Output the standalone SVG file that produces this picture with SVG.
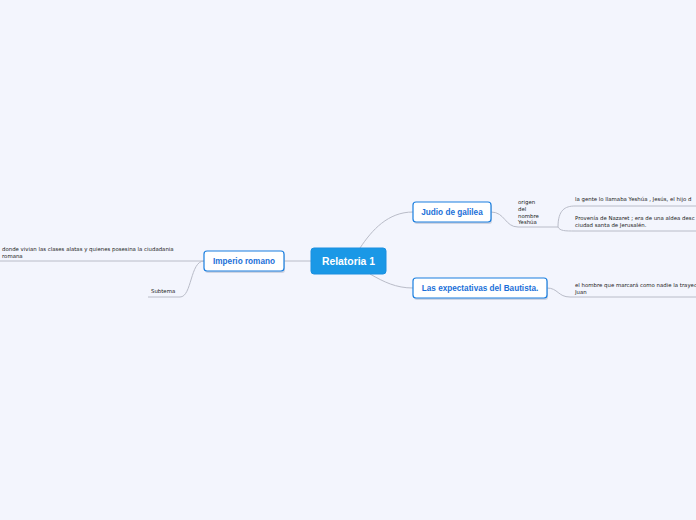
<svg xmlns="http://www.w3.org/2000/svg" width="696" height="520" viewBox="0 0 696 520">
<defs>
<style>
.bg{fill:#f3f5fd}
.con{fill:none;stroke:#b9bcc8;stroke-width:1}
.main{fill:#1a98e6;stroke:#1a8fe0;stroke-width:1}
.sub{fill:#ffffff;stroke:#1a7fe0;stroke-width:1.2}
.shadow{fill:#aab4c8;opacity:0.5}
.tmain{font-family:"Liberation Sans",Arial,sans-serif;font-size:10.4px;font-weight:bold;fill:#ffffff}
.tsub{font-family:"Liberation Sans",Arial,sans-serif;font-size:8.2px;font-weight:bold;fill:#1a6fd8}
.tsmall{font-family:"DejaVu Sans",Verdana,sans-serif;font-size:5.4px;fill:#222222}
</style>
</defs>
<rect class="bg" x="0" y="0" width="696" height="520"/>
<g id="connectors">
<path class="con" d="M360,248 C372,230 388,212 413,212"/>
<path class="con" d="M370,274 C384,282 396,288 413,288"/>
<path class="con" d="M311,261 L284,261"/>
<path class="con" d="M491,212 C505,212 505,227 518,227 L558,227"/>
<path class="con" d="M558,227 C558,210 565,206 575,206 L696,206"/>
<path class="con" d="M558,227 C560,231 565,231 575,231 L696,231"/>
<path class="con" d="M547,288 C558,288 558,297 570,297 L696,297"/>
<path class="con" d="M204,261 L0,261"/>
<path class="con" d="M204,261 C190,261 192,297 180,297 L148,297"/>
</g>
<g id="central">
<rect class="main" x="311" y="248" width="75" height="26" rx="3"/>
<text class="tmain" x="348.5" y="264.8" text-anchor="middle">Relatoria 1</text>
</g>
<g id="judio">
<rect class="shadow" x="414" y="204" width="78" height="20" rx="3"/>
<rect class="sub" x="413" y="202" width="78" height="20" rx="3"/>
<text class="tsub" x="452" y="215" text-anchor="middle">Judio de galilea</text>
</g>
<g id="expectativas">
<rect class="shadow" x="414" y="280" width="134" height="20" rx="3"/>
<rect class="sub" x="413" y="278" width="134" height="20" rx="3"/>
<text class="tsub" x="480" y="291" text-anchor="middle">Las expectativas del Bautista.</text>
</g>
<g id="imperio">
<rect class="shadow" x="205" y="253" width="80" height="20" rx="3"/>
<rect class="sub" x="204" y="251" width="80" height="20" rx="3"/>
<text class="tsub" x="244" y="264" text-anchor="middle">Imperio romano</text>
</g>
<g id="origen">
<text class="tsmall" x="518" y="204">origen</text>
<text class="tsmall" x="518" y="211">del</text>
<text class="tsmall" x="518" y="217.5">nombre</text>
<text class="tsmall" x="518" y="224">Yeshúa</text>
</g>
<g id="gente">
<text class="tsmall" x="575" y="201">la gente lo llamaba Yeshúa  , Jesús, el hijo d</text>
</g>
<g id="nazaret">
<text class="tsmall" x="575" y="220">Provenía de Nazaret ; era de una aldea desc</text>
<text class="tsmall" x="575" y="226.5">ciudad santa de Jerusalén.</text>
</g>
<g id="hombre">
<text class="tsmall" x="575" y="287">el hombre que marcará como nadie la trayec</text>
<text class="tsmall" x="575" y="293.5">Juan</text>
</g>
<g id="donde">
<text class="tsmall" x="2" y="251">donde vivian las clases alatas y quienes posesina la ciudadania</text>
<text class="tsmall" x="2" y="257.5">romana</text>
</g>
<g id="subtema">
<text class="tsmall" x="151" y="293">Subtema</text>
</g>
</svg>
